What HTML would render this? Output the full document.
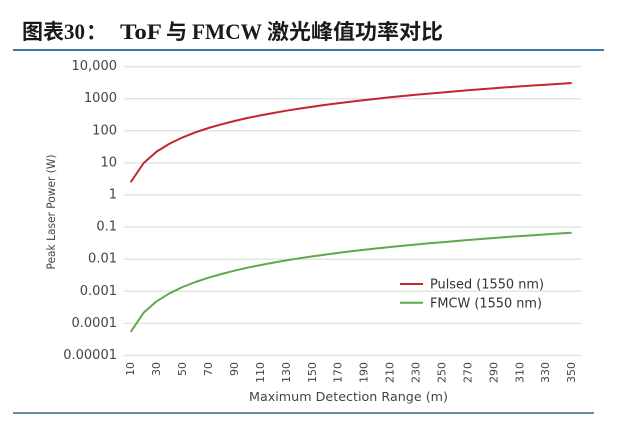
<!DOCTYPE html>
<html><head><meta charset="utf-8"><style>
html,body{margin:0;padding:0;background:#fff;}
svg{display:block;}
</style></head><body>
<svg width="619" height="425" viewBox="0 0 619 425" xmlns="http://www.w3.org/2000/svg">
<rect width="619" height="425" fill="#fff"/>
<!-- Title -->
<g fill="#1a1a1a" font-weight="bold">
<text x="22" y="39" font-family="'Noto Sans CJK SC', sans-serif" font-size="21" textLength="42" lengthAdjust="spacingAndGlyphs">图表</text>
<text x="64" y="39" font-family="'Liberation Serif', serif" font-size="22" textLength="21" lengthAdjust="spacingAndGlyphs">30</text>
<text x="86" y="39" font-family="'Noto Sans CJK SC', sans-serif" font-size="21">：</text>
<text x="120" y="39" font-family="'Liberation Serif', serif" font-size="22" textLength="42" lengthAdjust="spacingAndGlyphs">ToF</text>
<text x="166" y="39" font-family="'Noto Sans CJK SC', sans-serif" font-size="21" textLength="21" lengthAdjust="spacingAndGlyphs">与</text>
<text x="192" y="39" font-family="'Liberation Serif', serif" font-size="22" textLength="70" lengthAdjust="spacingAndGlyphs">FMCW</text>
<text x="267" y="39" font-family="'Noto Sans CJK SC', sans-serif" font-size="21" textLength="176" lengthAdjust="spacingAndGlyphs">激光峰值功率对比</text>
</g>
<line x1="13" y1="50" x2="604" y2="50" stroke="#3b78a6" stroke-width="2"/>
<line x1="13" y1="413" x2="594" y2="413" stroke="#2f6e80" stroke-width="1.5"/>

<!-- gridlines -->
<g stroke="#e4e4e4" stroke-width="1.5">
<line x1="124" y1="66.6" x2="581" y2="66.6"/>
<line x1="124" y1="98.7" x2="581" y2="98.7"/>
<line x1="124" y1="130.8" x2="581" y2="130.8"/>
<line x1="124" y1="162.9" x2="581" y2="162.9"/>
<line x1="124" y1="195" x2="581" y2="195"/>
<line x1="124" y1="227.1" x2="581" y2="227.1"/>
<line x1="124" y1="259.2" x2="581" y2="259.2"/>
<line x1="124" y1="291.3" x2="581" y2="291.3"/>
<line x1="124" y1="323.4" x2="581" y2="323.4"/>
<line x1="124" y1="355.5" x2="581" y2="355.5"/>
</g>

<!-- y tick labels -->
<g font-family="'DejaVu Sans', sans-serif" font-size="13" fill="#444" text-anchor="end" dominant-baseline="central">
<text x="117" y="66.6">10,000</text>
<text x="117" y="98.7">1000</text>
<text x="117" y="130.8">100</text>
<text x="117" y="162.9">10</text>
<text x="117" y="195">1</text>
<text x="117" y="227.1">0.1</text>
<text x="117" y="259.2">0.01</text>
<text x="117" y="291.3">0.001</text>
<text x="117" y="323.4">0.0001</text>
<text x="117" y="355.5">0.00001</text>
</g>

<!-- y axis title -->
<text transform="translate(55,212) rotate(-90)" font-family="'DejaVu Sans', sans-serif" font-size="11.5" fill="#444" text-anchor="middle" textLength="115" lengthAdjust="spacingAndGlyphs">Peak Laser Power (W)</text>

<!-- x tick labels -->
<g font-family="'DejaVu Sans', sans-serif" font-size="11" fill="#444" text-anchor="end" dominant-baseline="central">
<text transform="translate(130.7,362) rotate(-90)">10</text>
<text transform="translate(156.6,362) rotate(-90)">30</text>
<text transform="translate(182.6,362) rotate(-90)">50</text>
<text transform="translate(208.5,362) rotate(-90)">70</text>
<text transform="translate(234.5,362) rotate(-90)">90</text>
<text transform="translate(260.4,362) rotate(-90)">110</text>
<text transform="translate(286.3,362) rotate(-90)">130</text>
<text transform="translate(312.3,362) rotate(-90)">150</text>
<text transform="translate(338.2,362) rotate(-90)">170</text>
<text transform="translate(364.2,362) rotate(-90)">190</text>
<text transform="translate(390.1,362) rotate(-90)">210</text>
<text transform="translate(416.0,362) rotate(-90)">230</text>
<text transform="translate(442.0,362) rotate(-90)">250</text>
<text transform="translate(467.9,362) rotate(-90)">270</text>
<text transform="translate(493.9,362) rotate(-90)">290</text>
<text transform="translate(519.8,362) rotate(-90)">310</text>
<text transform="translate(545.7,362) rotate(-90)">330</text>
<text transform="translate(571.7,362) rotate(-90)">350</text>
</g>

<!-- x axis title -->
<text x="249" y="401" font-family="'DejaVu Sans', sans-serif" font-size="12" fill="#444" textLength="199" lengthAdjust="spacingAndGlyphs">Maximum Detection Range (m)</text>

<!-- series -->
<polyline fill="none" stroke="#c4262e" stroke-width="2" stroke-linejoin="round" points="130.7,182.2 143.7,163.0 156.6,151.6 169.6,143.6 182.6,137.4 195.5,132.3 208.5,128.0 221.5,124.3 234.5,121.0 247.4,118.0 260.4,115.4 273.4,113.0 286.3,110.7 299.3,108.6 312.3,106.7 325.2,104.9 338.2,103.2 351.2,101.6 364.2,100.1 377.1,98.7 390.1,97.3 403.1,96.0 416.0,94.8 429.0,93.6 442.0,92.5 454.9,91.4 467.9,90.3 480.9,89.3 493.9,88.3 506.8,87.3 519.8,86.4 532.8,85.5 545.7,84.7 558.7,83.9 571.7,83.0"/>
<polyline fill="none" stroke="#5fa84f" stroke-width="2" stroke-linejoin="round" points="130.7,331.9 143.7,312.6 156.6,301.3 169.6,293.3 182.6,287.0 195.5,282.0 208.5,277.7 221.5,274.0 234.5,270.7 247.4,267.7 260.4,265.1 273.4,262.6 286.3,260.4 299.3,258.3 312.3,256.4 325.2,254.6 338.2,252.9 351.2,251.3 364.2,249.8 377.1,248.4 390.1,247.0 403.1,245.7 416.0,244.5 429.0,243.3 442.0,242.2 454.9,241.1 467.9,240.0 480.9,239.0 493.9,238.0 506.8,237.0 519.8,236.1 532.8,235.2 545.7,234.4 558.7,233.5 571.7,232.7"/>

<!-- legend -->
<line x1="400" y1="284" x2="423" y2="284" stroke="#c4262e" stroke-width="2"/>
<line x1="400" y1="302.7" x2="423" y2="302.7" stroke="#5fa84f" stroke-width="2"/>
<g font-family="'DejaVu Sans', sans-serif" font-size="13" fill="#333">
<text x="430" y="288.7" textLength="114" lengthAdjust="spacingAndGlyphs">Pulsed (1550 nm)</text>
<text x="430" y="307.3" textLength="112" lengthAdjust="spacingAndGlyphs">FMCW (1550 nm)</text>
</g>
</svg>
</body></html>
